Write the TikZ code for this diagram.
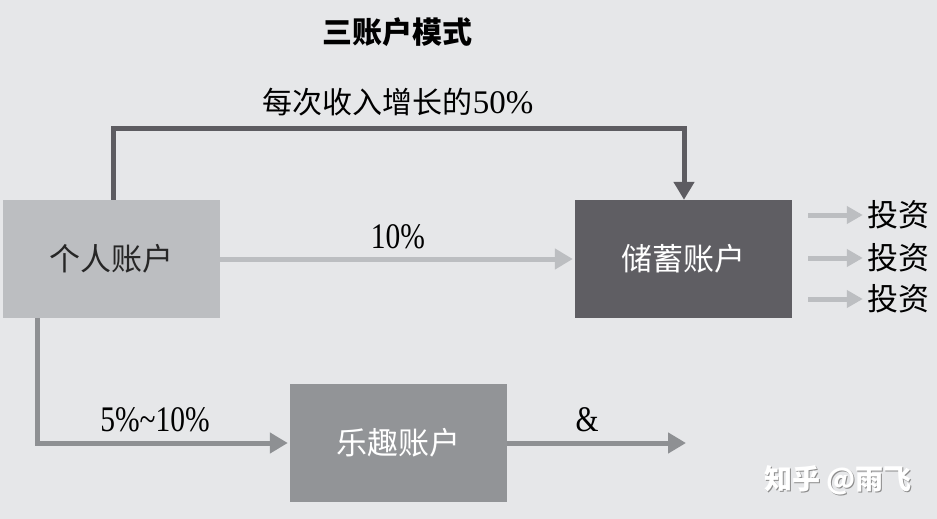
\documentclass[tikz,border=0pt]{standalone}
\usepackage{fontspec}
\setmainfont{Liberation Serif}
\newfontfamily\cjk{Noto Sans CJK SC}
\usetikzlibrary{arrows.meta}

\definecolor{bgcol}{HTML}{E6E7E9}
\definecolor{boxlight}{HTML}{BCBEC1}
\definecolor{boxdark}{HTML}{5F5E63}
\definecolor{boxmid}{HTML}{929497}
\definecolor{linedark}{HTML}{5D5C61}
\definecolor{linemid}{HTML}{8E9093}

\tikzset{
  acct/.style={minimum width=217pt, minimum height=118pt, inner sep=0pt,
               font=\cjk\fontsize{31}{34}\selectfont},
  flowdark/.style={draw=linedark, line width=5pt, line join=miter,
                   -{Triangle[length=18pt,width=20pt]}},
  flowlight/.style={draw=boxlight, line width=5pt,
                    -{Triangle[length=18pt,width=20pt]}},
  flowmid/.style={draw=linemid, line width=5pt, line join=miter,
                  -{Triangle[length=18pt,width=20pt]}},
  investarrow/.style={draw=boxlight, line width=5pt,
                      -{Triangle[length=16pt,width=17pt]}},
  cjklabel/.style={inner sep=0pt, font=\cjk\fontsize{31}{34}\selectfont},
  numlabel/.style={inner sep=0pt, xscale=0.82, font=\fontsize{36}{40}\selectfont},
}

\begin{document}
\begin{tikzpicture}[x=1pt, y=-1pt]
  \fill[bgcol] (0,0) rectangle (937,519);
  \useasboundingbox (0,0) rectangle (937,519);

  % title
  \node[inner sep=0pt, font=\cjk\bfseries\fontsize{30}{34}\selectfont] (title) at (397,32) {三账户模式};

  % the three accounts
  \node[acct, fill=boxlight, text=black!85] (personal) at (111.5,259) {个人账户};
  \node[acct, fill=boxdark, text=white] (saving) at (683.5,259) {储蓄账户};
  \node[acct, fill=boxmid, text=white] (fun) at (398.5,443) {乐趣账户};

  % 50% of each income rise goes over the top into savings
  \coordinate (toprail) at (400,128);
  \draw[flowdark] ([xshift=1.5pt]personal.north) |- (toprail) -| ([xshift=0.5pt]saving.north);
  \node[inner sep=0pt, font=\cjk\fontsize{30}{34}\selectfont] (risetext) at (398,102) {每次收入增长的{\rmfamily\fontsize{33}{34}\selectfont 50\%}};

  % 10% straight into savings
  \draw[flowlight, shorten >=2pt] (personal.east) -- (saving.west);
  \node[numlabel] (tenpct) at (398,237) {10\%};

  % savings fan out into investments
  \foreach \i/\yy in {1/215, 2/258, 3/299} {
    \coordinate (inv\i start) at (808,\yy);
    \node[cjklabel] (inv\i) at (898,\yy) {投资};
    \draw[investarrow] (inv\i start) -- ([xshift=-4pt]inv\i.west);
  }

  % 5%~10% down and into the fun account
  \draw[flowmid, shorten >=2pt] ([xshift=-74.5pt]personal.south) |- (fun.west);
  \node[numlabel] (funpct) at (155,420) {5\%\textasciitilde 10\%};

  % spending out of the fun account
  \coordinate (funout) at (686,443);
  \draw[flowmid] (fun.east) -- (funout);
  \node[numlabel] (amp) at (587,420) {\&};

  % corner mark
  \node[inner sep=0pt, text=black!45, font=\cjk\bfseries\fontsize{28}{32}\selectfont] (markshadow) at (839.2,481.2) {知乎 @雨飞};
  \node[inner sep=0pt, text=white, font=\cjk\bfseries\fontsize{28}{32}\selectfont] (mark) at (838,480) {知乎 @雨飞};
\end{tikzpicture}
\end{document}
